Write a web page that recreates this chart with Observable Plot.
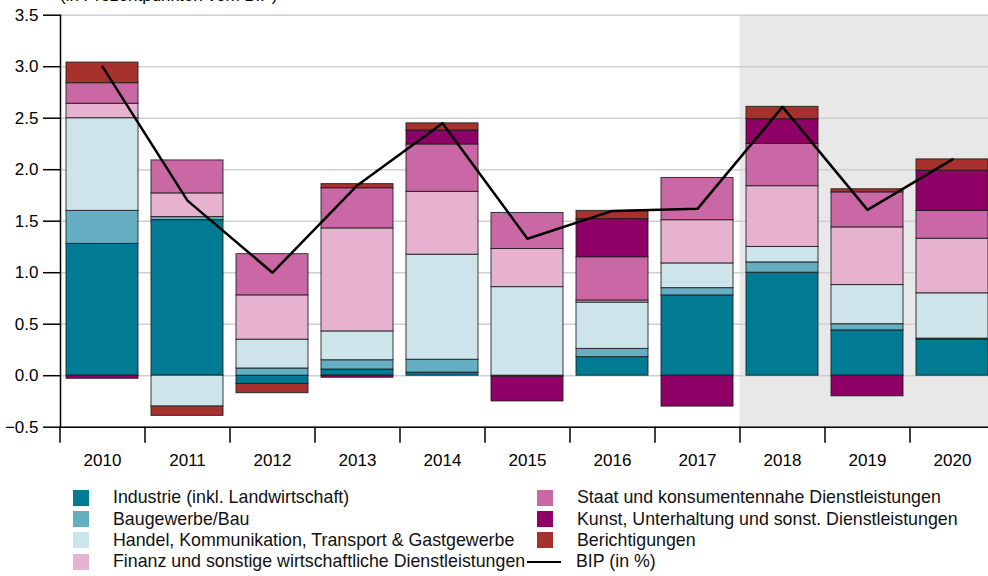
<!DOCTYPE html>
<html>
<head>
<meta charset="utf-8">
<script src="https://cdn.jsdelivr.net/npm/d3@7"></script>
<script src="https://cdn.jsdelivr.net/npm/@observablehq/plot@0.6"></script>
<style>
  html, body { margin: 0; padding: 0; overflow: hidden; background: #fff; width: 988px; height: 576px; }
  body { position: relative; font-family: "Liberation Sans", Arial, sans-serif; }
  #title { position: absolute; left: 60px; top: -13px; font-size: 17px; line-height: 17px; color: #000; white-space: nowrap; }
  #chart { position: absolute; left: 0; top: 0; width: 995px; }
  #chart svg { max-width: none !important; }
  #legend { position: absolute; left: 73px; top: 487px; display: grid; grid-template-columns: 464px 420px; grid-auto-flow: column; grid-template-rows: repeat(4, 21.4px); font-size: 17.8px; color: #111; }
  .item { display: flex; align-items: center; white-space: nowrap; }
  .sw { width: 16px; height: 16px; margin-right: 24px; flex: none; }
  .ln { width: 34px; height: 2.5px; background: #000; margin-left: -10px; margin-right: 15px; flex: none; }
</style>
</head>
<body>
<div id="title">(in Prozentpunkten vom BIP)</div>
<div id="chart"></div>
<div id="legend"></div>
<script>
const years = [2010, 2011, 2012, 2013, 2014, 2015, 2016, 2017, 2018, 2019, 2020];
const forecastYears = [2018, 2019, 2020];
const sectors = [
  "Industrie (inkl. Landwirtschaft)",
  "Baugewerbe/Bau",
  "Handel, Kommunikation, Transport & Gastgewerbe",
  "Finanz und sonstige wirtschaftliche Dienstleistungen",
  "Staat und konsumentennahe Dienstleistungen",
  "Kunst, Unterhaltung und sonst. Dienstleistungen",
  "Berichtigungen"
];
const colors = ["#007B93", "#66AFC2", "#CCE4EA", "#E7B2D0", "#CA67A5", "#8F0066", "#A6312D"];
const industrie = [1.28, 1.51, -0.08, 0.06, 0.03, -0.01, 0.18, 0.78, 1.00, 0.44, 0.35];
const bau       = [0.32, 0.03, 0.07, 0.09, 0.125, 0.00, 0.08, 0.07, 0.10, 0.06, 0.01];
const handel    = [0.90, -0.30, 0.28, 0.28, 1.02, 0.86, 0.45, 0.24, 0.15, 0.38, 0.44];
const finanz    = [0.14, 0.23, 0.43, 1.00, 0.61, 0.37, 0.02, 0.42, 0.59, 0.56, 0.53];
const staat     = [0.20, 0.32, 0.40, 0.39, 0.46, 0.35, 0.42, 0.41, 0.41, 0.34, 0.27];
const kunst     = [-0.03, 0.00, 0.00, -0.02, 0.135, -0.24, 0.37, -0.30, 0.24, -0.20, 0.39];
const bericht   = [0.20, -0.09, -0.09, 0.04, 0.07, 0.00, 0.08, 0.00, 0.12, 0.03, 0.11];
const bip       = [3.0, 1.7, 1.0, 1.85, 2.45, 1.33, 1.6, 1.62, 2.61, 1.61, 2.1];
const yTicks = [-0.5, 0, 0.5, 1, 1.5, 2, 2.5, 3, 3.5];
const lineLabel = "BIP (in %)";

const series = [industrie, bau, handel, finanz, staat, kunst, bericht];
const rows = [];
series.forEach((vals, si) => vals.forEach((v, i) => {
  if (v !== 0) rows.push({year: years[i], sector: sectors[si], value: v});
}));
const bipRows = years.map((y, i) => ({year: y, value: bip[i]}));

const W = 995, ML = 60, MR = 0;
const step = (W - ML - MR) / years.length;
const pad = 0.15;

const plot = Plot.plot({
  width: W,
  height: 480,
  marginLeft: ML,
  marginRight: MR,
  marginTop: 14.7,
  marginBottom: 53.3,
  style: {fontFamily: "'Liberation Sans', Arial, sans-serif", fontSize: "17px", color: "#000", background: "transparent", maxWidth: "none"},
  x: {type: "band", domain: years, paddingInner: pad, paddingOuter: pad / 2},
  y: {domain: [-0.5, 3.5]},
  color: {domain: sectors, range: colors},
  marks: [
    Plot.barY(forecastYears, {x: d => d, y1: -0.5, y2: 3.5, fill: "#E8E8E8", insetLeft: -step * pad / 2, insetRight: -step * pad / 2 - 1}),
    Plot.gridY(yTicks, {stroke: "#CFCFCF", strokeOpacity: 1, strokeWidth: 1.5}),
    Plot.ruleY([-0.5], {stroke: "#000", strokeWidth: 1.5}),
    Plot.barY(rows, Plot.stackY({order: sectors, x: "year", y: "value", fill: "sector", stroke: "#1a1a1a", strokeWidth: 1, strokeOpacity: 0.85})),
    Plot.lineY(bipRows, {x: "year", y: "value", stroke: "#000", strokeWidth: 2.5}),
    Plot.ruleX(years, {x: d => d, dx: -step / 2, y1: -0.5, y2: -0.655, stroke: "#000", strokeWidth: 1.5}),
    Plot.frame({anchor: "left", stroke: "#000", strokeWidth: 1.5}),
    Plot.axisY(yTicks, {tickFormat: d3.format(".1f"), tickSize: 17, tickPadding: 5, fontSize: 17, strokeWidth: 1.5, label: null}),
    Plot.axisX({tickFormat: d => String(d), tickSize: 0, tickPadding: 27, fontSize: 17, label: null})
  ]
});
document.getElementById("chart").appendChild(plot);

const legend = document.getElementById("legend");
sectors.forEach((s, i) => {
  const it = document.createElement("div");
  it.className = "item";
  it.innerHTML = `<span class="sw" style="background:${colors[i]}"></span><span>${s}</span>`;
  legend.appendChild(it);
});
const lineItem = document.createElement("div");
lineItem.className = "item";
lineItem.innerHTML = `<span class="ln"></span><span>${lineLabel}</span>`;
legend.appendChild(lineItem);
</script>
</body>
</html>
